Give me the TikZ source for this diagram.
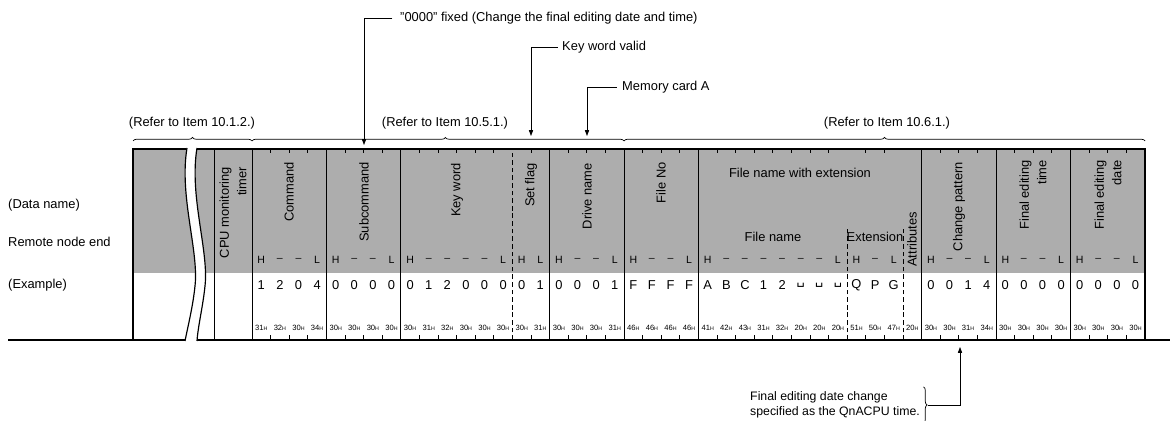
\documentclass[tikz,border=0pt]{standalone}
\usepackage{fontspec}
\setmainfont{Liberation Sans}
\newfontfamily\symfam{DejaVu Sans}
\usepackage{tikz}
\usetikzlibrary{arrows.meta, decorations.pathreplacing}

\newcommand{\hsub}{\raisebox{-0.1ex}{\fontsize{4.5}{5}\selectfont H}}
\newcommand{\vsp}{{\symfam\fontsize{11}{12}\selectfont ␣}}

\begin{document}
\begin{tikzpicture}[x=0.03cm, y=0.03cm, >={Triangle[length=5pt,width=3.6pt]},
  font=\fontsize{11}{13}\selectfont,
  lbl/.style={inner sep=0pt},
  vlbl/.style={rotate=90, anchor=east, inner sep=0pt, align=right, font=\fontsize{11}{15}\selectfont},
  exch/.style={inner sep=0pt},
  hexv/.style={inner sep=0pt, font=\fontsize{6.5}{7}\selectfont},
  hlch/.style={inner sep=0pt, font=\fontsize{9}{10}\selectfont},
  thin/.style={line width=0.6pt},
  frame/.style={line width=1.4pt},
  dashcol/.style={line width=0.6pt, dash pattern=on 4pt off 2.5pt},
  refbrace/.style={decorate, decoration={brace, amplitude=3pt}, line width=0.6pt}]

\useasboundingbox (0,0) rectangle (1176,421);

\fill[black!32] (133,148) rectangle (1145,272);

% column lines
\draw[thin] (214,81) -- (214,272);
\foreach \b in {0,4,8,16,20,24,36,40,44}
  \draw[thin] ({252+18.6*\b},81) -- ++(0,191);
\draw[dashcol] ({252+18.6*14},81) -- ++(0,191);
\foreach \b in {32,35}
  \draw[dashcol] ({252+18.6*\b},81) -- ({252+18.6*\b},193);
\foreach \b in {1,2,3,5,6,7,9,10,11,12,13,15,17,18,19,21,22,23,25,26,27,28,29,30,31,33,34,37,38,39,41,42,43,45,46,47} {
  \draw[thin] ({252+18.6*\b},272) -- ++(0,-4);
  \draw[thin] ({252+18.6*\b},81) -- ++(0,5);
}
\draw[frame] (133,81) -- (133,272) -- (1145,272) -- (1145,81);
\draw[frame] (8,81) -- (1170,81);

% break
\fill[white] (187,274) .. controls (179,225) and (199,170) .. (195,135) .. controls (193,115) and (188,95) .. (185,79)
  -- (197,79) .. controls (198,95) and (203,115) .. (205,135) .. controls (209,170) and (189,225) .. (197,274) -- cycle;
\draw[line width=1pt] (187,273) .. controls (179,225) and (199,170) .. (195,135) .. controls (193,115) and (188,95) .. (185,80);
\draw[line width=1pt] (197,273) .. controls (189,225) and (209,170) .. (205,135) .. controls (203,115) and (198,95) .. (197,80);

% references
\draw[refbrace] (133,280) -- (252,280);
\draw[refbrace, decoration={aspect=0.52}] (252,280) -- (624,280);
\draw[refbrace] (624,280) -- (1145,280);
\node[lbl] (ref1) at (192,298) {(Refer to Item 10.1.2.)};
\node[lbl] (ref2) at (445,298) {(Refer to Item 10.5.1.)};
\node[lbl] (ref3) at (887,298) {(Refer to Item 10.6.1.)};

\node[lbl, anchor=west] (fixedlbl) at (400,403) {"0000" fixed (Change the final editing date and time)};
\node[lbl, anchor=west] (kwlbl) at (562,374) {Key word valid};
\node[lbl, anchor=west] (cardlbl) at (622,334) {Memory card A};
\coordinate (fixedtip) at (364,276);
\coordinate (kwtip) at (531,285);
\coordinate (cardtip) at (587,285);
\draw[thin, ->] ([xshift=-6.5pt]fixedlbl.west) -| (fixedtip);
\draw[thin, ->] ([xshift=-3.5pt]kwlbl.west) -| (kwtip);
\draw[thin, ->] ([xshift=-4.5pt]cardlbl.west) -| (cardtip);

\node[lbl, anchor=west] (dname) at (8,216) {(Data name)};
\node[lbl, anchor=west] (remote) at (8,179) {Remote node end};
\node[lbl, anchor=west] (exmpl) at (8,136) {(Example)};

% data names
\node[vlbl] (cpu) at (233,254) {CPU monitoring\\timer};
\node[vlbl] (cmd) at (289,259) {Command};
\node[vlbl] (subcmd) at (364,259) {Subcommand};
\node[vlbl] (kword) at (457,258) {Key word};
\node[vlbl] (setflag) at (531,258) {Set flag};
\node[vlbl] (drive) at (587,258) {Drive name};
\node[vlbl] (fileno) at (661,259) {File No};
\node[lbl] (fnext) at (800,248) {File name with extension};
\node[lbl] (fname) at (773,184) {File name};
\node[lbl] (fext) at (875,184) {Extension};
\node[vlbl] (attr) at (912,209) {Attributes};
\node[vlbl] (chg) at (959,259) {Change pattern};
\node[vlbl] (ftime) at (1033,261) {Final editing\\time};
\node[vlbl] (fdate) at (1108,261) {Final editing\\date};

\foreach \c [count=\i from 0] in {H,--,--,L,H,--,--,L,H,--,--,--,--,L,H,L,H,--,--,L,H,--,--,L,H,--,--,--,--,--,--,L,H,--,L,{},H,--,--,L,H,--,--,L,H,--,--,L}
  \node[hlch] (hl\i) at ({261.3+18.6*\i},161) {\c};
\foreach \c [count=\i from 0] in {1,2,0,4,0,0,0,0,0,1,2,0,0,0,0,1,0,0,0,1,F,F,F,F,A,B,C,1,2,\vsp,\vsp,\vsp,Q,P,G,{},0,0,1,4,0,0,0,0,0,0,0,0}
  \node[exch] (ex\i) at ({261.3+18.6*\i},136) {\c};
\foreach \h [count=\i from 0] in {31,32,30,34,30,30,30,30,30,31,32,30,30,30,30,31,30,30,30,31,46,46,46,46,41,42,43,31,32,20,20,20,51,50,47,20,30,30,31,34,30,30,30,30,30,30,30,30}
  \node[hexv] (hx\i) at ({261.3+18.6*\i},93) {\h\hsub};

% time note
\node[lbl, inner ysep=4pt, anchor=west, align=left, font=\fontsize{10.5}{12.8}\selectfont] (note) at (750,16) {Final editing date change\\specified as the QnACPU time.};
\draw[refbrace] ([xshift=3pt]note.north east) -- ([xshift=3pt]note.south east);
\coordinate (notetip) at ([xshift=7pt]note.east);
\coordinate (chgtip) at (960,74);
\draw[thin, ->] (notetip) -| (chgtip);
\end{tikzpicture}
\end{document}
